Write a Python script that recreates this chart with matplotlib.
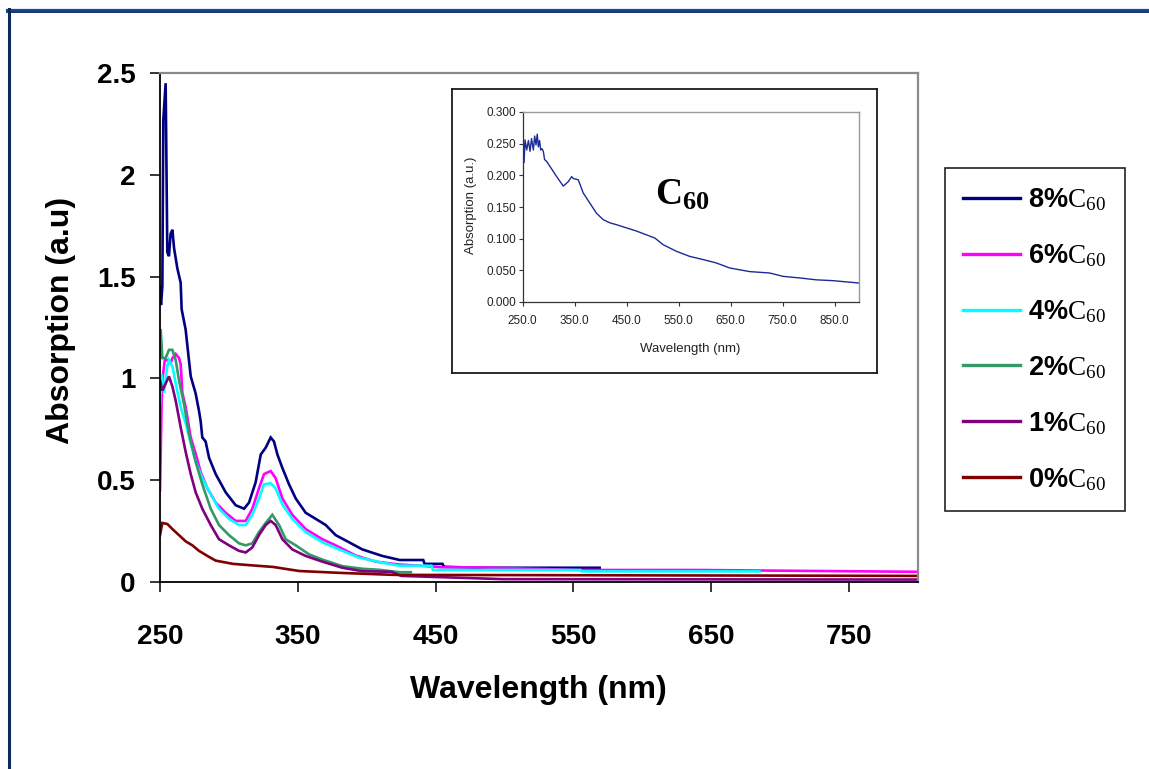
import matplotlib
matplotlib.use("Agg")
import matplotlib.pyplot as plt
from matplotlib.lines import Line2D

# ---------------- data ----------------
series_labels = ["8%", "6%", "4%", "2%", "1%", "0%"]
series_colors = ["#000080", "#FF00FF", "#00FFFF", "#339966", "#800080", "#800000"]

nm_8 = [250, 250.7, 251.7, 252.4, 254.1, 255.3, 256.5, 257.7, 259.0, 260.2, 262.6, 265.0,
        265.7, 268.6, 271.0, 272.3, 275.9, 278.3, 279.5, 280.7, 283.1, 285.6, 290.4, 297.7,
        304.9, 311.0, 314.6, 319.4, 323.1, 326.7, 330.3, 332.7, 335.2, 338.8, 343.6, 348.5,
        355.7, 363.0, 370.2, 377.5, 387.2, 396.8, 411.3, 424.0, 441.0, 442.0, 455.0, 456.0,
        479.0, 569.0]
abs_8 = [1.45, 1.36, 1.45, 2.27, 2.45, 1.62, 1.60, 1.71, 1.73, 1.64, 1.54, 1.47,
         1.34, 1.24, 1.09, 1.01, 0.925, 0.84, 0.79, 0.71, 0.69, 0.61, 0.53, 0.44,
         0.377, 0.36, 0.39, 0.49, 0.626, 0.66, 0.71, 0.69, 0.626, 0.56, 0.48, 0.41,
         0.34, 0.31, 0.28, 0.23, 0.195, 0.16, 0.128, 0.108, 0.108, 0.089, 0.089, 0.075,
         0.07, 0.07]

nm_6 = [250, 250.5, 251.2, 252.2, 253.5, 255.3, 257.7, 259.0, 261.4, 263.8, 265.0, 266.2,
        268.6, 272.3, 275.9, 279.5, 284.4, 290.4, 297.7, 304.9, 312.2, 317.0, 321.8, 325.5,
        330.3, 333.9, 338.8, 346.0, 355.7, 367.8, 377.5, 392.0, 406.5, 423.4, 442.8, 455.0,
        479.0, 555.0, 640.0, 800.0]
abs_6 = [0.45, 0.62, 0.90, 1.02, 1.09, 1.09, 1.075, 1.10, 1.12, 1.10, 1.07, 0.93,
         0.86, 0.71, 0.63, 0.54, 0.46, 0.39, 0.34, 0.30, 0.30, 0.36, 0.46, 0.53,
         0.545, 0.51, 0.41, 0.33, 0.26, 0.21, 0.18, 0.13, 0.10, 0.086, 0.078, 0.072,
         0.072, 0.059, 0.059, 0.05]

nm_4 = [250, 251.2, 252.9, 255.3, 256.5, 259.0, 261.4, 265.0, 268.6, 272.3, 275.9, 280.7,
        286.8, 292.8, 300.1, 307.3, 312.2, 317.0, 321.8, 325.5, 330.3, 333.9, 338.8, 346.0,
        355.7, 367.8, 379.9, 394.4, 411.3, 424.0, 447.0, 448.0, 555.0, 556.0, 685.0]
abs_4 = [0.875, 1.02, 0.93, 1.06, 1.09, 1.06, 0.975, 0.86, 0.78, 0.68, 0.59, 0.51,
         0.43, 0.36, 0.31, 0.28, 0.28, 0.33, 0.41, 0.48, 0.485, 0.46, 0.38, 0.31,
         0.245, 0.195, 0.16, 0.12, 0.095, 0.08, 0.08, 0.059, 0.059, 0.052, 0.052]

nm_2 = [250, 250.5, 251.7, 254.1, 256.5, 259.0, 261.4, 263.8, 267.4, 271.0, 275.9, 280.7,
        286.8, 292.8, 300.1, 307.3, 312.2, 317.0, 321.8, 326.7, 331.5, 336.4, 341.2, 348.5,
        358.1, 367.8, 382.3, 396.8, 408.9, 424.0, 432.0]
abs_2 = [1.11, 1.24, 1.10, 1.10, 1.14, 1.14, 1.09, 0.99, 0.875, 0.73, 0.59, 0.48,
         0.36, 0.28, 0.23, 0.19, 0.18, 0.19, 0.245, 0.29, 0.33, 0.28, 0.21, 0.18,
         0.136, 0.11, 0.078, 0.065, 0.06, 0.048, 0.048]

nm_1 = [250, 251.7, 254.1, 256.5, 259.0, 261.4, 265.0, 268.6, 272.3, 275.9, 280.7, 286.8,
        292.8, 300.1, 307.3, 312.2, 317.0, 321.8, 326.7, 330.3, 333.9, 338.8, 346.0, 355.7,
        367.8, 382.3, 396.8, 418.0, 425.0, 499.0, 800.0]
abs_1 = [0.99, 0.94, 0.975, 1.01, 0.96, 0.89, 0.76, 0.64, 0.53, 0.44, 0.36, 0.28,
         0.21, 0.18, 0.153, 0.145, 0.17, 0.23, 0.28, 0.30, 0.28, 0.21, 0.16, 0.128,
         0.10, 0.07, 0.053, 0.05, 0.03, 0.014, 0.012]

nm_0 = [250, 251.7, 255.3, 259.0, 263.8, 268.6, 273.5, 278.3, 284.4, 290.4, 303.0, 320.0,
        332.0, 351.0, 380.0, 420.0, 800.0]
abs_0 = [0.23, 0.29, 0.285, 0.26, 0.23, 0.20, 0.18, 0.153, 0.128, 0.105, 0.089, 0.08,
         0.074, 0.054, 0.045, 0.035, 0.03]

series_nm = [nm_8, nm_6, nm_4, nm_2, nm_1, nm_0]
series_abs = [abs_8, abs_6, abs_4, abs_2, abs_1, abs_0]

main_xticks = [250, 350, 450, 550, 650, 750]
main_yticks = [0, 0.5, 1, 1.5, 2, 2.5]
main_ytick_labels = ["0", "0.5", "1", "1.5", "2", "2.5"]

# pure C60 spectrum (inset)
inset_nm = [250, 251.3, 252.6, 254.5, 257.7, 261, 264.1, 267, 270.5, 273, 275.6, 278,
            280.1, 282.5, 284.6, 287, 289.7, 292, 296.1, 302.5, 315.3, 328.1, 337.7, 344.1,
            347.3, 356.9, 366.5, 379.3, 392.1, 404.9, 417.8, 430.6, 449.8, 469, 488.2, 504.2,
            520.2, 545.8, 571.4, 597, 622.7, 648.3, 686.7, 725.1, 750.7, 782.7, 814.7, 846.8,
            896.7]
inset_abs = [0.177, 0.251, 0.22, 0.256, 0.24, 0.255, 0.238, 0.258, 0.24, 0.262, 0.248, 0.265,
             0.245, 0.255, 0.24, 0.242, 0.238, 0.225, 0.222, 0.214, 0.198, 0.183, 0.19, 0.198,
             0.195, 0.193, 0.172, 0.156, 0.14, 0.13, 0.125, 0.122, 0.117, 0.112, 0.106, 0.101,
             0.0905, 0.08, 0.072, 0.067, 0.0616, 0.0537, 0.048, 0.0458, 0.0405, 0.038, 0.035, 0.0337,
             0.03]
inset_xticks = [250, 350, 450, 550, 650, 750, 850]
inset_yticks = [0, 0.05, 0.10, 0.15, 0.20, 0.25, 0.30]

# ---------------- style ----------------
plt.rcParams["font.family"] = ["Liberation Sans", "DejaVu Sans"]
plt.rcParams["mathtext.fontset"] = "custom"
plt.rcParams["mathtext.rm"] = "Liberation Serif"
plt.rcParams["mathtext.it"] = "Liberation Serif:italic"
plt.rcParams["mathtext.bf"] = "Liberation Serif:bold"
plt.rcParams["mathtext.sf"] = "Liberation Sans:bold"

W, H = 1149, 769
fig = plt.figure(figsize=(W / 100, H / 100), dpi=100)


def fx(px):
    return px / W


def fy(py):
    return 1 - py / H


# window-style frame along the top and left edges
fig.add_artist(Line2D([fx(7), 1.0], [fy(10), fy(10)], transform=fig.transFigure,
                      color="#15489a", lw=1.6))
fig.add_artist(Line2D([fx(7), 1.0], [fy(12), fy(12)], transform=fig.transFigure,
                      color="#0b2452", lw=1.3))
fig.add_artist(Line2D([fx(8.5), fx(8.5)], [fy(9), 0.0], transform=fig.transFigure,
                      color="#0b2a5c", lw=2.2))

# ---------------- main axes ----------------
ax = fig.add_axes([fx(160), fy(582), fx(918) - fx(160), fy(73) - fy(582)])
handles = []
for nm, ab, lab, col in zip(series_nm, series_abs, series_labels, series_colors):
    h, = ax.plot(nm, ab, color=col, lw=1.9, solid_joinstyle="miter")
    handles.append(h)

ax.set_xlim(250, 800)
ax.set_ylim(0, 2.5)
ax.set_xticks(main_xticks)
ax.set_xticklabels([str(t) for t in main_xticks])
ax.set_yticks(main_yticks)
ax.set_yticklabels(main_ytick_labels)
ax.tick_params(axis="both", direction="out", length=7.5, width=1.1, color="black",
               labelsize=20)
ax.tick_params(axis="x", pad=23)
ax.tick_params(axis="y", pad=10)
for t in ax.get_xticklabels() + ax.get_yticklabels():
    t.set_fontweight("bold")
for s in ("left", "bottom"):
    ax.spines[s].set_color("black")
    ax.spines[s].set_linewidth(1.3)
for s in ("top", "right"):
    ax.spines[s].set_color("#8a8a8a")
    ax.spines[s].set_linewidth(1.6)

fig.text(fx(61), fy(320), "Absorption (a.u)", rotation=90, fontsize=23,
         fontweight="bold", ha="center", va="center")
fig.text(fx(538), fy(690), "Wavelength (nm)", fontsize=23, fontweight="bold",
         ha="center", va="center")

# ---------------- legend ----------------
leg_labels = [r"$\mathsf{" + p.replace("%", r"\%") + r"}\mathrm{C}_{60}$" for p in series_labels]
leg = fig.legend(handles, leg_labels, loc="upper left",
                 bbox_to_anchor=(fx(945), fy(168)), borderaxespad=0,
                 frameon=True, fancybox=False, edgecolor="#222222", framealpha=1,
                 prop={"size": 19.5}, handlelength=2.1, handletextpad=0.3,
                 labelspacing=1.07, borderpad=0.68)
leg.get_frame().set_linewidth(1.2)
for lh in leg.get_lines():
    lh.set_linewidth(2.4)

# ---------------- inset ----------------
box = fig.add_axes([fx(452), fy(373), fx(877) - fx(452), fy(89) - fy(373)])
box.set_xticks([])
box.set_yticks([])
box.set_facecolor("white")
for s in box.spines.values():
    s.set_color("#1a1a1a")
    s.set_linewidth(1.3)

ins = fig.add_axes([fx(522.7), fy(302), fx(859) - fx(522.7), fy(112) - fy(302)])
ins.plot(inset_nm, inset_abs, color="#1c2a96", lw=1.0)
ins.set_xlim(250, 897)
ins.set_ylim(0, 0.3)
ins.set_xticks(inset_xticks)
ins.set_xticklabels([f"{t:.1f}" for t in inset_xticks])
ins.set_yticks(inset_yticks)
ins.set_yticklabels([f"{t:.3f}" for t in inset_yticks])
ins.tick_params(axis="both", direction="out", length=3, width=0.8, color="#333333",
                labelsize=8.5, labelcolor="#222222")
ins.tick_params(axis="x", pad=6)
ins.tick_params(axis="y", pad=1.5)
for s in ("left", "bottom"):
    ins.spines[s].set_color("#333333")
    ins.spines[s].set_linewidth(0.9)
for s in ("top", "right"):
    ins.spines[s].set_color("#9a9a9a")
    ins.spines[s].set_linewidth(1.0)

fig.text(fx(471), fy(205), "Absorption (a.u.)", rotation=90, fontsize=9.5,
         color="#222222", ha="center", va="center")
fig.text(fx(690), fy(349), "Wavelength (nm)", fontsize=9.5, color="#222222",
         ha="center", va="center")
fig.text(fx(655), fy(205), r"$\mathbf{C}_{\mathbf{60}}$", fontsize=27,
         ha="left", va="baseline")

fig.savefig("out.png", dpi=100)
